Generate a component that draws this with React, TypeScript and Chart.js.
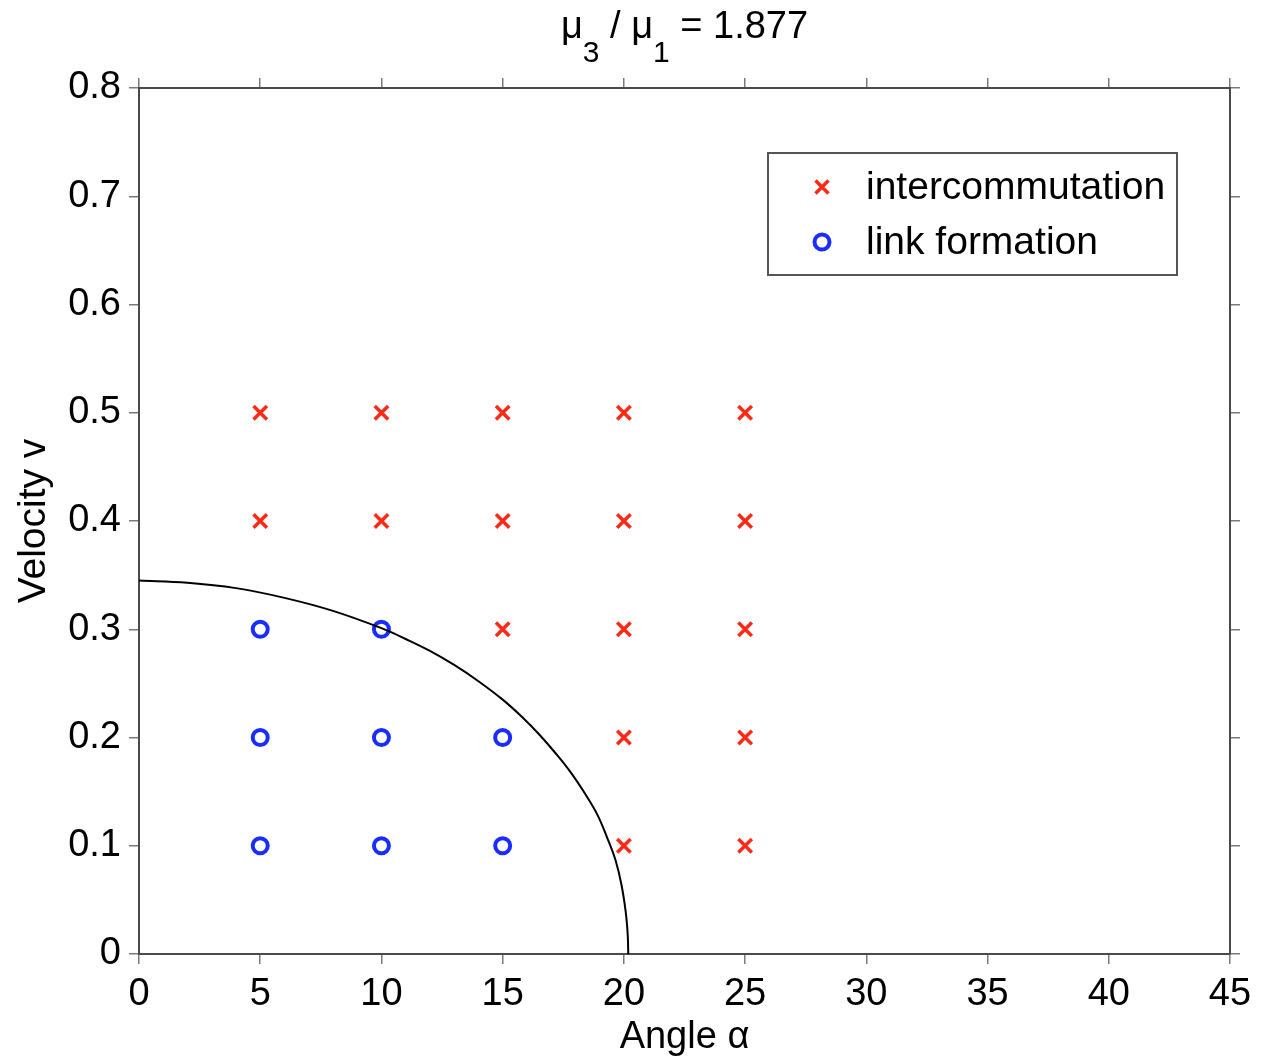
import React, { useEffect, useRef } from 'react';
import { Chart, registerables } from 'chart.js';

Chart.register(...registerables);

const FONT = "'Liberation Sans', Arial, Helvetica, sans-serif";

// Tick values / labels
const xTickValues = [0, 5, 10, 15, 20, 25, 30, 35, 40, 45];
const xTickLabels = ['0', '5', '10', '15', '20', '25', '30', '35', '40', '45'];
const yTickValues = [0, 0.1, 0.2, 0.3, 0.4, 0.5, 0.6, 0.7, 0.8];
const yTickLabels = ['0', '0.1', '0.2', '0.3', '0.4', '0.5', '0.6', '0.7', '0.8'];

// Series: intercommutation (red crosses)
const interAlpha = [5, 10, 15, 20, 25, 5, 10, 15, 20, 25, 15, 20, 25, 20, 25, 20, 25];
const interVel = [0.5, 0.5, 0.5, 0.5, 0.5, 0.4, 0.4, 0.4, 0.4, 0.4, 0.3, 0.3, 0.3, 0.2, 0.2, 0.1, 0.1];

// Series: link formation (blue circles)
const linkAlpha = [5, 10, 5, 10, 15, 5, 10, 15];
const linkVel = [0.3, 0.3, 0.2, 0.2, 0.2, 0.1, 0.1, 0.1];

// Boundary curve
const curveAlpha = [0, 2, 4, 6, 8, 10, 11, 12, 13, 14, 15, 15.8, 16.5, 17.2, 17.8, 18.4, 18.9, 19.3, 19.65, 19.9, 20.08, 20.16, 20.18];
const curveVel = [0.345, 0.343, 0.338, 0.329, 0.317, 0.301, 0.291, 0.28, 0.267, 0.252, 0.235, 0.219, 0.203, 0.185, 0.168, 0.148, 0.129, 0.108, 0.087, 0.064, 0.038, 0.017, 0];

const legendLabels = ['intercommutation', 'link formation'];

const RED = '#ff2a16';
const BLUE = '#1a2dff';
const AXIS = '#4a4a4a';
const TICK = '#7a7a7a';

const titlePlugin = {
  id: 'subTitle',
  afterDraw(chart: any) {
    const { ctx, chartArea } = chart;
    const main = `38px ${FONT}`;
    const sub = `30px ${FONT}`;
    const parts: [string, boolean][] = [
      ['\u03bc', false],
      ['3', true],
      [' / ', false],
      ['\u03bc', false],
      ['1', true],
      [' = 1.877', false],
    ];
    ctx.save();
    ctx.fillStyle = '#000';
    ctx.textBaseline = 'alphabetic';
    ctx.textAlign = 'left';
    let total = 0;
    const widths = parts.map(([t, s]) => {
      ctx.font = s ? sub : main;
      const w = ctx.measureText(t).width;
      total += w;
      return w;
    });
    let x = (chartArea.left + chartArea.right) / 2 - total / 2;
    const base = chartArea.top - 50;
    parts.forEach(([t, s], i) => {
      ctx.font = s ? sub : main;
      ctx.fillText(t, x, s ? base + 24 : base);
      x += widths[i];
    });
    ctx.restore();
  },
};

const legendPlugin = {
  id: 'boxLegend',
  afterDraw(chart: any) {
    const { ctx, chartArea } = chart;
    const left = chartArea.right - 462;
    const right = chartArea.right - 53;
    const top = chartArea.top + 65;
    const bottom = chartArea.top + 187;
    ctx.save();
    ctx.fillStyle = '#fff';
    ctx.fillRect(left, top, right - left, bottom - top);
    ctx.strokeStyle = '#555';
    ctx.lineWidth = 2;
    ctx.strokeRect(left, top, right - left, bottom - top);
    const mx = left + 54;
    const tx = left + 98;
    const rows = [top + 34, top + 89];
    // cross
    ctx.strokeStyle = RED;
    ctx.lineWidth = 3.5;
    const d = 6.5;
    ctx.beginPath();
    ctx.moveTo(mx - d, rows[0] - d);
    ctx.lineTo(mx + d, rows[0] + d);
    ctx.moveTo(mx + d, rows[0] - d);
    ctx.lineTo(mx - d, rows[0] + d);
    ctx.stroke();
    // circle
    ctx.strokeStyle = BLUE;
    ctx.lineWidth = 4;
    ctx.beginPath();
    ctx.arc(mx, rows[1], 7.5, 0, Math.PI * 2);
    ctx.stroke();
    ctx.fillStyle = '#000';
    ctx.font = `39px ${FONT}`;
    ctx.textBaseline = 'middle';
    ctx.textAlign = 'left';
    ctx.fillText(legendLabels[0], tx, rows[0] + 1);
    ctx.fillText(legendLabels[1], tx, rows[1] + 1);
    ctx.restore();
  },
};

const gridOpts = {
  drawOnChartArea: false,
  drawTicks: true,
  tickLength: 10,
  color: TICK,
  lineWidth: 1.5,
};
const borderOpts = { display: true, color: AXIS, width: 2 };

export default function App() {
  const ref = useRef<HTMLCanvasElement>(null);
  useEffect(() => {
    document.body.style.margin = '0';
    const canvas = ref.current;
    if (!canvas) return;
    const chart = new Chart(canvas, {
      type: 'scatter',
      data: {
        datasets: [
          {
            type: 'line',
            label: 'boundary',
            data: curveAlpha.map((a, i) => ({ x: a, y: curveVel[i] })),
            borderColor: '#000',
            borderWidth: 2,
            pointRadius: 0,
            fill: false,
            tension: 0.4,
            order: 0,
          } as any,
          {
            label: legendLabels[0],
            data: interAlpha.map((a, i) => ({ x: a, y: interVel[i] })),
            pointStyle: 'crossRot',
            pointRadius: 9.5,
            borderWidth: 3.5,
            pointBorderWidth: 3.5,
            borderColor: RED,
            backgroundColor: RED,
            order: 1,
          } as any,
          {
            label: legendLabels[1],
            data: linkAlpha.map((a, i) => ({ x: a, y: linkVel[i] })),
            pointStyle: 'circle',
            pointRadius: 7.5,
            borderWidth: 4,
            pointBorderWidth: 4,
            borderColor: BLUE,
            backgroundColor: 'rgba(255,255,255,0)',
            order: 1,
          } as any,
        ],
      },
      options: {
        responsive: false,
        animation: false,
        layout: { padding: 0 },
        plugins: {
          legend: { display: false },
          title: { display: false },
          tooltip: { enabled: false },
        },
        scales: {
          x: {
            type: 'linear',
            position: 'bottom',
            min: 0,
            max: 45,
            afterBuildTicks: (s: any) => {
              s.ticks = xTickValues.map((v) => ({ value: v }));
            },
            afterFit: (s: any) => {
              s.height = 106;
            },
            ticks: {
              color: '#000',
              font: { size: 38, family: FONT },
              padding: 8,
              maxRotation: 0,
              autoSkip: false,
              callback: (_v: any, i: number) => xTickLabels[i],
            },
            grid: gridOpts,
            border: borderOpts,
            title: {
              display: true,
              text: 'Angle \u03b1',
              color: '#000',
              font: { size: 38, family: FONT },
              padding: { top: 0, bottom: 0 },
            },
          },
          x2: {
            type: 'linear',
            position: 'top',
            min: 0,
            max: 45,
            afterBuildTicks: (s: any) => {
              s.ticks = xTickValues.map((v) => ({ value: v }));
            },
            afterFit: (s: any) => {
              s.height = 88;
            },
            ticks: { display: false },
            grid: gridOpts,
            border: borderOpts,
          },
          y: {
            type: 'linear',
            position: 'left',
            min: 0,
            max: 0.8,
            afterBuildTicks: (s: any) => {
              s.ticks = yTickValues.map((v) => ({ value: v }));
            },
            afterFit: (s: any) => {
              s.width = 139;
            },
            ticks: {
              color: '#000',
              font: { size: 38, family: FONT },
              padding: 8,
              autoSkip: false,
              callback: (_v: any, i: number) => yTickLabels[i],
            },
            grid: gridOpts,
            border: borderOpts,
            title: {
              display: true,
              text: 'Velocity v',
              color: '#000',
              font: { size: 39, family: FONT },
              padding: { top: 11, bottom: 0 },
            },
          },
          y2: {
            type: 'linear',
            position: 'right',
            min: 0,
            max: 0.8,
            afterBuildTicks: (s: any) => {
              s.ticks = yTickValues.map((v) => ({ value: v }));
            },
            afterFit: (s: any) => {
              s.width = 31;
            },
            ticks: { display: false },
            grid: gridOpts,
            border: borderOpts,
          },
        },
      } as any,
      plugins: [titlePlugin, legendPlugin],
    });
    return () => chart.destroy();
  }, []);
  return (
    <div style={{ width: 1261, height: 1060, background: '#fff' }}>
      <canvas ref={ref} width={1261} height={1060} style={{ display: 'block' }} />
    </div>
  );
}
